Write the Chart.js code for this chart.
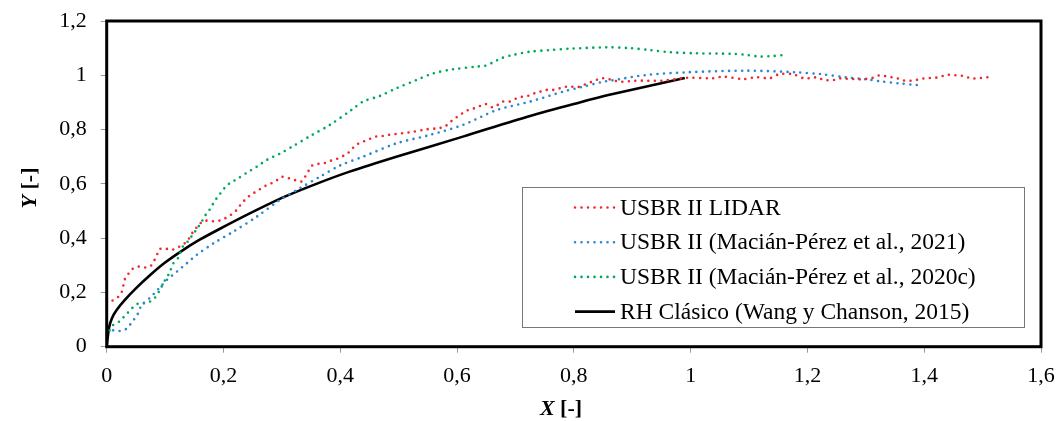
<!DOCTYPE html>
<html>
<head>
<meta charset="utf-8">
<script src="https://cdn.jsdelivr.net/npm/chart.js@4.4.0/dist/chart.umd.min.js"></script>
<style>
  html, body { margin: 0; padding: 0; background: #fff; }
</style>
</head>
<body>
<canvas id="chart" width="1058" height="421"></canvas>
<script>
// series
const lidarX = [0, 0.010, 0.020, 0.026, 0.031, 0.037, 0.044, 0.054, 0.066, 0.075, 0.081, 0.086, 0.090, 0.100, 0.110, 0.121, 0.130, 0.138, 0.144, 0.149, 0.157, 0.165, 0.175, 0.185, 0.197, 0.206, 0.216, 0.224, 0.231, 0.240, 0.248, 0.257, 0.265, 0.274, 0.284, 0.292, 0.301, 0.313, 0.322, 0.333, 0.339, 0.345, 0.351, 0.361, 0.372, 0.382, 0.394, 0.405, 0.414, 0.421, 0.429, 0.439, 0.450, 0.460, 0.471, 0.482, 0.493, 0.505, 0.525, 0.548, 0.568, 0.579, 0.589, 0.599, 0.609, 0.619, 0.629, 0.639, 0.649, 0.660, 0.669, 0.678, 0.690, 0.702, 0.712, 0.723, 0.733, 0.743, 0.753, 0.764, 0.776, 0.787, 0.796, 0.806, 0.816, 0.827, 0.836, 0.847, 0.859, 0.870, 0.882, 0.904, 0.927, 0.950, 0.973, 0.993, 1.038, 1.055, 1.090, 1.113, 1.135, 1.152, 1.175, 1.195, 1.207, 1.218, 1.227, 1.238, 1.248, 1.257, 1.268, 1.279, 1.291, 1.301, 1.311, 1.322, 1.333, 1.344, 1.355, 1.365, 1.376, 1.387, 1.398, 1.409, 1.420, 1.430, 1.438, 1.449, 1.459, 1.470, 1.481, 1.492, 1.503, 1.514];
const lidarY = [0.160, 0.170, 0.184, 0.203, 0.248, 0.268, 0.286, 0.295, 0.292, 0.297, 0.316, 0.338, 0.359, 0.362, 0.356, 0.365, 0.375, 0.390, 0.409, 0.427, 0.446, 0.463, 0.464, 0.462, 0.467, 0.477, 0.491, 0.507, 0.528, 0.547, 0.562, 0.572, 0.584, 0.595, 0.604, 0.614, 0.626, 0.620, 0.614, 0.608, 0.624, 0.645, 0.666, 0.673, 0.676, 0.684, 0.692, 0.703, 0.715, 0.731, 0.746, 0.755, 0.765, 0.774, 0.776, 0.780, 0.783, 0.786, 0.792, 0.801, 0.805, 0.811, 0.829, 0.845, 0.860, 0.872, 0.878, 0.887, 0.894, 0.882, 0.890, 0.903, 0.903, 0.915, 0.921, 0.925, 0.934, 0.940, 0.946, 0.946, 0.952, 0.958, 0.958, 0.956, 0.964, 0.973, 0.980, 0.989, 0.986, 0.980, 0.976, 0.980, 0.980, 0.980, 0.985, 0.991, 0.989, 0.995, 0.986, 0.993, 0.989, 1.004, 1.004, 0.988, 0.991, 0.992, 0.983, 0.982, 0.983, 0.989, 0.987, 0.986, 0.985, 0.987, 0.990, 0.999, 0.997, 0.993, 0.988, 0.981, 0.980, 0.983, 0.988, 0.990, 0.991, 0.996, 1.002, 1.000, 1.000, 0.996, 0.988, 0.989, 0.991, 0.995];

const mp2021X = [0, 0.012, 0.022, 0.033, 0.041, 0.053, 0.060, 0.073, 0.088, 0.103, 0.120, 0.137, 0.154, 0.183, 0.217, 0.257, 0.297, 0.331, 0.365, 0.400, 0.439, 0.496, 0.553, 0.610, 0.668, 0.725, 0.782, 0.816, 0.850, 0.862, 0.924, 0.993, 1.096, 1.181, 1.224, 1.267, 1.301, 1.324, 1.358, 1.388];
const mp2021Y = [0.064, 0.060, 0.058, 0.065, 0.084, 0.120, 0.154, 0.178, 0.211, 0.246, 0.276, 0.307, 0.338, 0.381, 0.424, 0.479, 0.541, 0.584, 0.626, 0.668, 0.700, 0.749, 0.780, 0.817, 0.872, 0.903, 0.940, 0.958, 0.976, 0.980, 1.001, 1.011, 1.017, 1.011, 1.004, 0.992, 0.985, 0.978, 0.970, 0.964];

const mp2020X = [0.005, 0.011, 0.024, 0.031, 0.039, 0.046, 0.055, 0.066, 0.077, 0.084, 0.091, 0.100, 0.107, 0.114, 0.123, 0.130, 0.140, 0.147, 0.154, 0.165, 0.171, 0.178, 0.183, 0.189, 0.197, 0.204, 0.212, 0.222, 0.240, 0.257, 0.274, 0.297, 0.320, 0.350, 0.382, 0.419, 0.439, 0.468, 0.496, 0.531, 0.559, 0.593, 0.633, 0.648, 0.662, 0.676, 0.696, 0.725, 0.759, 0.793, 0.856, 0.896, 0.930, 0.964, 1.010, 1.073, 1.096, 1.118, 1.141, 1.161];
const mp2020Y = [0.060, 0.080, 0.096, 0.114, 0.131, 0.147, 0.160, 0.160, 0.170, 0.184, 0.209, 0.246, 0.270, 0.307, 0.329, 0.368, 0.390, 0.412, 0.432, 0.469, 0.491, 0.510, 0.530, 0.549, 0.571, 0.590, 0.604, 0.616, 0.641, 0.663, 0.688, 0.712, 0.740, 0.778, 0.817, 0.872, 0.903, 0.924, 0.952, 0.983, 1.007, 1.022, 1.032, 1.035, 1.048, 1.063, 1.075, 1.087, 1.093, 1.098, 1.103, 1.100, 1.093, 1.085, 1.081, 1.079, 1.075, 1.069, 1.071, 1.075];

const rhX = [0, 0.004, 0.009, 0.017, 0.030, 0.050, 0.075, 0.100, 0.130, 0.160, 0.190, 0.245, 0.302, 0.359, 0.416, 0.496, 0.610, 0.725, 0.810, 0.859, 0.990];
const rhY = [0, 0.070, 0.105, 0.135, 0.170, 0.215, 0.265, 0.310, 0.355, 0.395, 0.430, 0.491, 0.550, 0.600, 0.645, 0.700, 0.774, 0.850, 0.900, 0.927, 0.990];

const seriesNames = [
  'USBR II LIDAR',
  'USBR II (Macián-Pérez et al., 2021)',
  'USBR II (Macián-Pérez et al., 2020c)',
  'RH Clásico (Wang y Chanson, 2015)'
];

const xTitle = ['X', ' [-]'];
const yTitle = ['Y', ' [-]'];

const FONT = '"Liberation Serif", "Times New Roman", serif';

function pts(xs, ys) {
  return xs.map((x, i) => ({ x: x, y: ys[i] }));
}

function dotted(label, color, xs, ys) {
  return {
    label: label,
    data: pts(xs, ys),
    borderColor: color,
    borderWidth: 2.6,
    borderDash: [0, 6.5],
    borderCapStyle: 'round',
    pointRadius: 0,
    tension: 0.3,
    fill: false
  };
}

function fmt(v) {
  return (Math.round(v * 10) / 10).toString().replace('.', ',');
}

const frame = {
  id: 'frame',
  afterDatasetsDraw(chart) {
    const a = chart.chartArea, ctx = chart.ctx;
    ctx.save();
    ctx.strokeStyle = '#000';
    ctx.lineWidth = 3;
    ctx.strokeRect(a.left, a.top, a.right - a.left, a.bottom - a.top);
    ctx.restore();
  }
};

function mixedTitle(ctx, parts, cx, cy, rot) {
  ctx.save();
  ctx.translate(cx, cy);
  ctx.rotate(rot);
  ctx.fillStyle = '#000';
  ctx.textBaseline = 'middle';
  const f1 = 'italic bold 22px ' + FONT, f2 = 'bold 22px ' + FONT;
  ctx.font = f1;
  const w1 = ctx.measureText(parts[0]).width;
  ctx.font = f2;
  const w2 = ctx.measureText(parts[1]).width;
  let x = -(w1 + w2) / 2;
  ctx.font = f1;
  ctx.fillText(parts[0], x, 0);
  ctx.font = f2;
  ctx.fillText(parts[1], x + w1, 0);
  ctx.restore();
}

const extras = {
  id: 'extras',
  afterDraw(chart) {
    const ctx = chart.ctx;
    mixedTitle(ctx, xTitle, 561, 409, 0);
    mixedTitle(ctx, yTitle, 30, 188, -Math.PI / 2);

    // legend box
    ctx.save();
    ctx.fillStyle = '#fff';
    ctx.fillRect(522.5, 187.5, 502, 140);
    ctx.strokeStyle = '#777';
    ctx.lineWidth = 1;
    ctx.strokeRect(522.5, 187.5, 502, 140);
    ctx.font = '23.5px ' + FONT;
    ctx.textBaseline = 'middle';
    chart.data.datasets.forEach((ds, i) => {
      const y = 207.5 + i * 34.7;
      ctx.beginPath();
      ctx.strokeStyle = ds.borderColor;
      ctx.lineWidth = ds.borderWidth;
      ctx.lineCap = ds.borderCapStyle || 'butt';
      ctx.setLineDash(ds.borderDash || []);
      ctx.moveTo(575, y);
      ctx.lineTo(615, y);
      ctx.stroke();
      ctx.setLineDash([]);
      ctx.fillStyle = '#000';
      ctx.fillText(ds.label, 620, y + 1);
    });
    ctx.restore();
  }
};

new Chart(document.getElementById('chart'), {
  type: 'line',
  data: {
    datasets: [
      dotted(seriesNames[0], '#ee2a2f', lidarX, lidarY),
      dotted(seriesNames[1], '#2b88d0', mp2021X, mp2021Y),
      dotted(seriesNames[2], '#00a85a', mp2020X, mp2020Y),
      {
        label: seriesNames[3],
        data: pts(rhX, rhY),
        borderColor: '#000',
        borderWidth: 2.6,
        pointRadius: 0,
        tension: 0.3,
        fill: false
      }
    ]
  },
  options: {
    responsive: false,
    animation: false,
    layout: { padding: { left: 0, top: 21, right: 17, bottom: 0 } },
    plugins: { legend: { display: false }, tooltip: { enabled: false } },
    scales: {
      x: {
        type: 'linear',
        min: 0,
        max: 1.6,
        afterFit(s) { s.height = 74.3; s.paddingLeft = 0; s.paddingRight = 0; },
        border: { display: false },
        grid: { drawOnChartArea: false, drawTicks: true, tickLength: 6, color: '#999' },
        ticks: {
          stepSize: 0.2,
          padding: 10,
          color: '#000',
          font: { family: FONT, size: 22 },
          callback: fmt
        }
      },
      y: {
        type: 'linear',
        min: 0,
        max: 1.2,
        afterFit(s) { s.width = 106.7; s.paddingTop = 0; s.paddingBottom = 0; },
        border: { display: false },
        grid: { drawOnChartArea: false, drawTicks: true, tickLength: 6, color: '#999' },
        ticks: {
          stepSize: 0.2,
          padding: 14,
          color: '#000',
          font: { family: FONT, size: 22 },
          callback: fmt
        }
      }
    }
  },
  plugins: [frame, extras]
});
</script>
</body>
</html>
